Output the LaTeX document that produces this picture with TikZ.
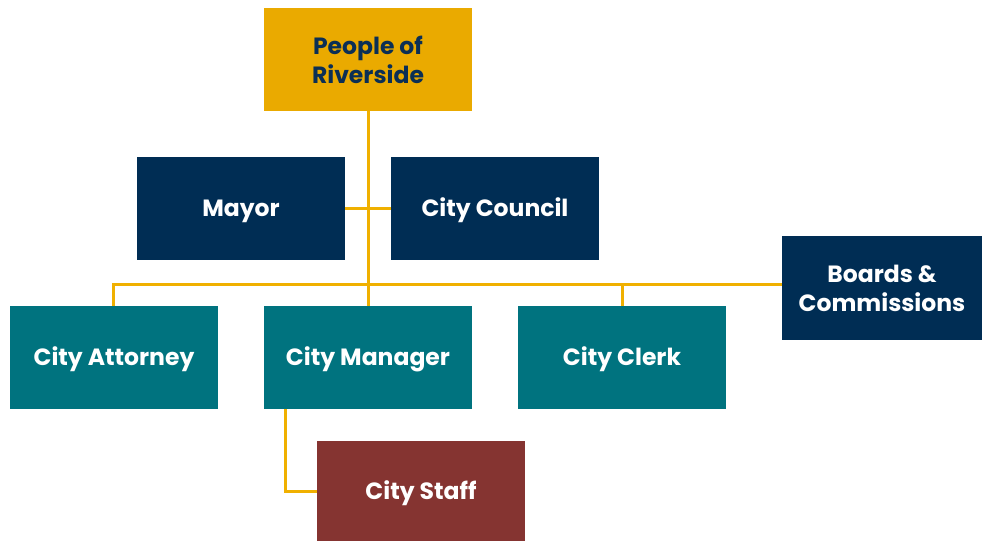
\documentclass[tikz,border=0pt]{standalone}
\usepackage{fontspec}
\setmainfont{Poppins}
\definecolor{gold}{HTML}{EAAA00}
\definecolor{goldline}{HTML}{F0B000}
\definecolor{navy}{HTML}{002D54}
\definecolor{teal}{HTML}{00737F}
\definecolor{maroon}{HTML}{853431}
\definecolor{darktext}{HTML}{0B2F55}
\begin{document}
\begin{tikzpicture}[x=1pt,y=-1pt,
  box/.style={draw=none,minimum width=208pt,minimum height=103pt,inner sep=0pt,align=center,
    text=white,font=\fontsize{23.5}{29}\selectfont\bfseries},
  oneline/.style={text height=22pt,text depth=5.5pt},
  link/.style={draw=goldline,line width=3pt}]
\useasboundingbox[fill=white] (0,0) rectangle (982,541);
\node[box,fill=gold,text=darktext] (people) at (368,59.5) {People of\\Riverside};
\node[box,oneline,fill=navy] (mayor) at (241,208.5) {Mayor};
\node[box,oneline,fill=navy] (council) at (495,208.5) {City Council};
\node[box,fill=navy,minimum width=200pt,minimum height=104pt] (boards) at (882,288) {Boards \&\\Commissions};
\node[box,oneline,fill=teal] (attorney) at (114,357.5) {City Attorney};
\node[box,oneline,fill=teal] (manager) at (368,357.5) {City Manager};
\node[box,oneline,fill=teal] (clerk) at (622,357.5) {City Clerk};
\node[box,oneline,fill=maroon,minimum height=100pt] (staff) at (421,491) {City Staff};
\coordinate (busR) at (782,284);
\draw[link] (people.south) -- (manager.north);
\draw[link] (mayor.east) -- (council.west);
\draw[link] ([xshift=-1pt]attorney.north) |- (busR);
\draw[link] (clerk.north) -- (clerk.north |- busR);
\draw[link] ([xshift=-83pt]manager.south) |- (staff.west);
\end{tikzpicture}
\end{document}
